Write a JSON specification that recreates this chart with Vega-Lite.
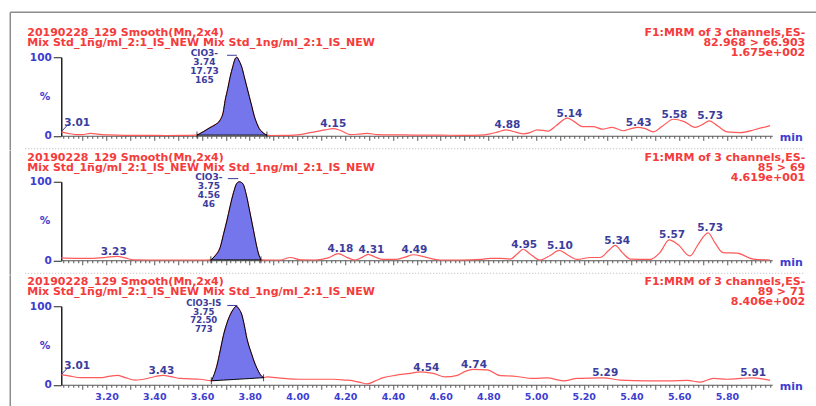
{
  "$schema": "https://vega.github.io/schema/vega-lite/v6.json",
  "background": "white",
  "padding": {"left": 9.25, "top": 11.25, "right": 0, "bottom": 0},
  "config": {"view": {"stroke": null}, "font": "DejaVu Sans", "axis": {"labelOverlap": false}},
  "spacing": 45.5,
  "bounds": "flush",
  "datasets": {
    "trace": [
      {"p":1,"t":3.010,"v":5},{"p":1,"t":3.039,"v":3},{"p":1,"t":3.069,"v":1.5},{"p":1,"t":3.098,"v":1.5},{"p":1,"t":3.132,"v":3},{"p":1,"t":3.165,"v":2},{"p":1,"t":3.207,"v":1},{"p":1,"t":3.278,"v":0.5},{"p":1,"t":3.362,"v":0.5},{"p":1,"t":3.446,"v":0.3},{"p":1,"t":3.530,"v":0.5},{"p":1,"t":3.579,"v":0.8},
      {"p":1,"t":3.605,"v":5},{"p":1,"t":3.634,"v":10.4},{"p":1,"t":3.655,"v":14},{"p":1,"t":3.676,"v":20},{"p":1,"t":3.689,"v":30},{"p":1,"t":3.697,"v":45},{"p":1,"t":3.708,"v":60},{"p":1,"t":3.718,"v":75},{"p":1,"t":3.729,"v":88},{"p":1,"t":3.739,"v":98},{"p":1,"t":3.746,"v":100},{"p":1,"t":3.756,"v":95},{"p":1,"t":3.767,"v":87},{"p":1,"t":3.777,"v":75},{"p":1,"t":3.788,"v":62},{"p":1,"t":3.798,"v":50},{"p":1,"t":3.809,"v":37},{"p":1,"t":3.819,"v":25},{"p":1,"t":3.830,"v":15.5},{"p":1,"t":3.840,"v":9},{"p":1,"t":3.851,"v":5},{"p":1,"t":3.872,"v":0.8},
      {"p":1,"t":3.886,"v":0.3},{"p":1,"t":3.949,"v":0.5},{"p":1,"t":4.012,"v":1.5},{"p":1,"t":4.054,"v":4},{"p":1,"t":4.083,"v":5.5},{"p":1,"t":4.116,"v":7.5},{"p":1,"t":4.150,"v":9},{"p":1,"t":4.179,"v":7},{"p":1,"t":4.221,"v":1.5},{"p":1,"t":4.255,"v":2},{"p":1,"t":4.292,"v":3},{"p":1,"t":4.334,"v":1.5},{"p":1,"t":4.389,"v":1},{"p":1,"t":4.452,"v":1},{"p":1,"t":4.515,"v":0.8},{"p":1,"t":4.598,"v":0.8},{"p":1,"t":4.682,"v":0.5},{"p":1,"t":4.766,"v":0.8},{"p":1,"t":4.808,"v":2.5},{"p":1,"t":4.842,"v":5},{"p":1,"t":4.875,"v":7.5},{"p":1,"t":4.904,"v":5.5},{"p":1,"t":4.946,"v":2.5},{"p":1,"t":4.975,"v":4},{"p":1,"t":5.005,"v":7.5},{"p":1,"t":5.051,"v":6},{"p":1,"t":5.085,"v":13},{"p":1,"t":5.131,"v":22.5},{"p":1,"t":5.160,"v":18},{"p":1,"t":5.194,"v":11.5},{"p":1,"t":5.240,"v":11.5},{"p":1,"t":5.277,"v":8.5},{"p":1,"t":5.319,"v":10.7},{"p":1,"t":5.365,"v":6.4},{"p":1,"t":5.399,"v":9},{"p":1,"t":5.424,"v":10.7},{"p":1,"t":5.458,"v":9},{"p":1,"t":5.491,"v":5},{"p":1,"t":5.529,"v":12},{"p":1,"t":5.575,"v":21},{"p":1,"t":5.621,"v":18},{"p":1,"t":5.667,"v":10.7},{"p":1,"t":5.696,"v":14},{"p":1,"t":5.726,"v":19},{"p":1,"t":5.763,"v":12},{"p":1,"t":5.801,"v":5},{"p":1,"t":5.856,"v":4},{"p":1,"t":5.919,"v":8},{"p":1,"t":5.981,"v":13},
      {"p":2,"t":3.010,"v":3},{"p":2,"t":3.069,"v":2.5},{"p":2,"t":3.132,"v":2.5},{"p":2,"t":3.194,"v":3.5},{"p":2,"t":3.245,"v":5},{"p":2,"t":3.278,"v":3},{"p":2,"t":3.312,"v":0.5},{"p":2,"t":3.383,"v":0.3},{"p":2,"t":3.509,"v":0.3},{"p":2,"t":3.614,"v":0.3},{"p":2,"t":3.637,"v":0.5},
      {"p":2,"t":3.655,"v":5.7},{"p":2,"t":3.676,"v":16.3},{"p":2,"t":3.690,"v":33},{"p":2,"t":3.704,"v":50},{"p":2,"t":3.718,"v":69},{"p":2,"t":3.732,"v":86},{"p":2,"t":3.746,"v":98},{"p":2,"t":3.757,"v":100},{"p":2,"t":3.772,"v":97},{"p":2,"t":3.785,"v":84},{"p":2,"t":3.802,"v":59},{"p":2,"t":3.816,"v":37.6},{"p":2,"t":3.827,"v":20.6},{"p":2,"t":3.837,"v":8},{"p":2,"t":3.847,"v":0.5},
      {"p":2,"t":3.886,"v":0.3},{"p":2,"t":3.928,"v":0.3},{"p":2,"t":3.970,"v":3.5},{"p":2,"t":4.012,"v":0.5},{"p":2,"t":4.075,"v":0.3},{"p":2,"t":4.129,"v":3},{"p":2,"t":4.171,"v":8.5},{"p":2,"t":4.205,"v":4},{"p":2,"t":4.242,"v":0.3},{"p":2,"t":4.272,"v":4},{"p":2,"t":4.297,"v":7.6},{"p":2,"t":4.326,"v":4},{"p":2,"t":4.360,"v":1},{"p":2,"t":4.410,"v":1},{"p":2,"t":4.452,"v":4},{"p":2,"t":4.485,"v":7},{"p":2,"t":4.536,"v":4},{"p":2,"t":4.598,"v":0.3},{"p":2,"t":4.682,"v":0.3},{"p":2,"t":4.766,"v":1},{"p":2,"t":4.808,"v":2.5},{"p":2,"t":4.850,"v":2.5},{"p":2,"t":4.892,"v":1.5},{"p":2,"t":4.921,"v":8},{"p":2,"t":4.946,"v":14},{"p":2,"t":4.975,"v":8},{"p":2,"t":5.017,"v":0.3},{"p":2,"t":5.059,"v":6},{"p":2,"t":5.097,"v":12.7},{"p":2,"t":5.131,"v":7},{"p":2,"t":5.173,"v":1},{"p":2,"t":5.227,"v":3.5},{"p":2,"t":5.269,"v":3.5},{"p":2,"t":5.303,"v":12},{"p":2,"t":5.332,"v":19},{"p":2,"t":5.361,"v":10},{"p":2,"t":5.395,"v":1.5},{"p":2,"t":5.478,"v":1},{"p":2,"t":5.520,"v":10},{"p":2,"t":5.558,"v":26},{"p":2,"t":5.595,"v":20},{"p":2,"t":5.645,"v":5.5},{"p":2,"t":5.679,"v":20},{"p":2,"t":5.721,"v":35},{"p":2,"t":5.750,"v":22},{"p":2,"t":5.784,"v":9.7},{"p":2,"t":5.843,"v":9},{"p":2,"t":5.910,"v":1.5},{"p":2,"t":5.981,"v":0.3},
      {"p":3,"t":3.010,"v":13},{"p":3,"t":3.048,"v":11},{"p":3,"t":3.090,"v":9},{"p":3,"t":3.173,"v":9},{"p":3,"t":3.215,"v":11},{"p":3,"t":3.245,"v":12},{"p":3,"t":3.278,"v":9},{"p":3,"t":3.320,"v":6},{"p":3,"t":3.370,"v":8},{"p":3,"t":3.404,"v":10.5},{"p":3,"t":3.437,"v":12},{"p":3,"t":3.475,"v":10},{"p":3,"t":3.509,"v":8},{"p":3,"t":3.593,"v":7},{"p":3,"t":3.639,"v":5},
      {"p":3,"t":3.663,"v":25},{"p":3,"t":3.676,"v":43},{"p":3,"t":3.690,"v":63},{"p":3,"t":3.704,"v":78},{"p":3,"t":3.718,"v":89},{"p":3,"t":3.731,"v":96},{"p":3,"t":3.743,"v":100},{"p":3,"t":3.756,"v":96},{"p":3,"t":3.767,"v":89},{"p":3,"t":3.777,"v":76},{"p":3,"t":3.788,"v":59},{"p":3,"t":3.798,"v":48},{"p":3,"t":3.809,"v":38},{"p":3,"t":3.819,"v":29},{"p":3,"t":3.830,"v":21},{"p":3,"t":3.844,"v":13},{"p":3,"t":3.858,"v":9},
      {"p":3,"t":3.873,"v":10},{"p":3,"t":3.928,"v":8.5},{"p":3,"t":4.012,"v":7},{"p":3,"t":4.095,"v":7},{"p":3,"t":4.150,"v":7},{"p":3,"t":4.200,"v":6},{"p":3,"t":4.234,"v":5},{"p":3,"t":4.263,"v":3},{"p":3,"t":4.292,"v":1},{"p":3,"t":4.326,"v":5},{"p":3,"t":4.360,"v":9},{"p":3,"t":4.410,"v":12},{"p":3,"t":4.473,"v":14.5},{"p":3,"t":4.515,"v":16.5},{"p":3,"t":4.569,"v":14.5},{"p":3,"t":4.619,"v":10},{"p":3,"t":4.670,"v":12},{"p":3,"t":4.703,"v":17},{"p":3,"t":4.737,"v":19.5},{"p":3,"t":4.795,"v":19},{"p":3,"t":4.850,"v":11.5},{"p":3,"t":4.904,"v":11},{"p":3,"t":4.988,"v":8},{"p":3,"t":5.047,"v":8.7},{"p":3,"t":5.114,"v":5},{"p":3,"t":5.173,"v":8},{"p":3,"t":5.227,"v":8.5},{"p":3,"t":5.282,"v":8.7},{"p":3,"t":5.353,"v":6},{"p":3,"t":5.466,"v":5},{"p":3,"t":5.562,"v":5},{"p":3,"t":5.634,"v":5.5},{"p":3,"t":5.688,"v":3.4},{"p":3,"t":5.743,"v":8},{"p":3,"t":5.801,"v":7},{"p":3,"t":5.856,"v":8},{"p":3,"t":5.906,"v":8.7},{"p":3,"t":5.948,"v":7.5},{"p":3,"t":5.981,"v":5.5}
    ],
    "peak": [
      {"p":1,"t":3.579,"v":0.8,"b":0.8},{"p":1,"t":3.605,"v":5,"b":0.8},{"p":1,"t":3.634,"v":10.4,"b":0.8},{"p":1,"t":3.655,"v":14,"b":0.8},{"p":1,"t":3.676,"v":20,"b":0.8},{"p":1,"t":3.689,"v":30,"b":0.8},{"p":1,"t":3.697,"v":45,"b":0.8},{"p":1,"t":3.708,"v":60,"b":0.8},{"p":1,"t":3.718,"v":75,"b":0.8},{"p":1,"t":3.729,"v":88,"b":0.8},{"p":1,"t":3.739,"v":98,"b":0.8},{"p":1,"t":3.746,"v":100,"b":0.8},{"p":1,"t":3.756,"v":95,"b":0.8},{"p":1,"t":3.767,"v":87,"b":0.8},{"p":1,"t":3.777,"v":75,"b":0.8},{"p":1,"t":3.788,"v":62,"b":0.8},{"p":1,"t":3.798,"v":50,"b":0.8},{"p":1,"t":3.809,"v":37,"b":0.8},{"p":1,"t":3.819,"v":25,"b":0.8},{"p":1,"t":3.830,"v":15.5,"b":0.8},{"p":1,"t":3.840,"v":9,"b":0.8},{"p":1,"t":3.851,"v":5,"b":0.8},{"p":1,"t":3.872,"v":0.8,"b":0.8},
      {"p":2,"t":3.637,"v":0.5,"b":0.5},{"p":2,"t":3.655,"v":5.7,"b":0.5},{"p":2,"t":3.676,"v":16.3,"b":0.5},{"p":2,"t":3.690,"v":33,"b":0.5},{"p":2,"t":3.704,"v":50,"b":0.5},{"p":2,"t":3.718,"v":69,"b":0.5},{"p":2,"t":3.732,"v":86,"b":0.5},{"p":2,"t":3.746,"v":98,"b":0.5},{"p":2,"t":3.757,"v":100,"b":0.5},{"p":2,"t":3.772,"v":97,"b":0.5},{"p":2,"t":3.785,"v":84,"b":0.5},{"p":2,"t":3.802,"v":59,"b":0.5},{"p":2,"t":3.816,"v":37.6,"b":0.5},{"p":2,"t":3.827,"v":20.6,"b":0.5},{"p":2,"t":3.837,"v":8,"b":0.5},{"p":2,"t":3.847,"v":0.5,"b":0.5},
      {"p":3,"t":3.639,"v":5,"b":5},{"p":3,"t":3.663,"v":25,"b":5.44},{"p":3,"t":3.676,"v":43,"b":5.68},{"p":3,"t":3.690,"v":63,"b":5.93},{"p":3,"t":3.704,"v":78,"b":6.19},{"p":3,"t":3.718,"v":89,"b":6.44},{"p":3,"t":3.731,"v":96,"b":6.68},{"p":3,"t":3.743,"v":100,"b":6.9},{"p":3,"t":3.756,"v":96,"b":7.14},{"p":3,"t":3.767,"v":89,"b":7.34},{"p":3,"t":3.777,"v":76,"b":7.52},{"p":3,"t":3.788,"v":59,"b":7.72},{"p":3,"t":3.798,"v":48,"b":7.9},{"p":3,"t":3.809,"v":38,"b":8.1},{"p":3,"t":3.819,"v":29,"b":8.29},{"p":3,"t":3.830,"v":21,"b":8.49},{"p":3,"t":3.844,"v":13,"b":8.74},{"p":3,"t":3.858,"v":9,"b":9}
    ],
    "lim": [
      {"p":1,"t":3.579,"b":0.8},{"p":1,"t":3.872,"b":0.8},
      {"p":2,"t":3.637,"b":0.5},{"p":2,"t":3.847,"b":0.5},
      {"p":3,"t":3.639,"b":5},{"p":3,"t":3.858,"b":9}
    ],
    "lead": [
      {"p":1,"t":3.010,"v":5,"t2":3.039,"v2":14.6},{"p":1,"t":3.705,"v":102.5,"t2":3.746,"v2":102.5},
      {"p":2,"t":3.708,"v":104,"t2":3.752,"v2":104},
      {"p":3,"t":3.010,"v":13,"t2":3.039,"v2":22.3},{"p":3,"t":3.706,"v":101,"t2":3.748,"v2":101}
    ],
    "lab": [
      {"p":1,"t":3.01,"v":5,"lbl":"3.01"},{"p":1,"t":4.15,"v":9,"lbl":"4.15"},{"p":1,"t":4.88,"v":7.5,"lbl":"4.88"},{"p":1,"t":5.14,"v":22.5,"lbl":"5.14"},{"p":1,"t":5.43,"v":10.7,"lbl":"5.43"},{"p":1,"t":5.58,"v":21,"lbl":"5.58"},{"p":1,"t":5.73,"v":19,"lbl":"5.73"},
      {"p":2,"t":3.23,"v":5,"lbl":"3.23"},{"p":2,"t":4.18,"v":8.5,"lbl":"4.18"},{"p":2,"t":4.31,"v":7.6,"lbl":"4.31"},{"p":2,"t":4.49,"v":7,"lbl":"4.49"},{"p":2,"t":4.95,"v":14,"lbl":"4.95"},{"p":2,"t":5.10,"v":12.7,"lbl":"5.10"},{"p":2,"t":5.34,"v":19,"lbl":"5.34"},{"p":2,"t":5.57,"v":26,"lbl":"5.57"},{"p":2,"t":5.73,"v":35,"lbl":"5.73"},
      {"p":3,"t":3.01,"v":13,"lbl":"3.01"},{"p":3,"t":3.43,"v":12,"lbl":"3.43"},{"p":3,"t":4.54,"v":15.5,"lbl":"4.54"},{"p":3,"t":4.74,"v":19.5,"lbl":"4.74"},{"p":3,"t":5.29,"v":8.7,"lbl":"5.29"},{"p":3,"t":5.91,"v":8.7,"lbl":"5.91"}
    ],
    "main": [
      {"p":1,"t":3.74,"v":100,"txt":"ClO3-\n3.74\n17.73\n165"},
      {"p":2,"t":3.75,"v":100,"txt":"ClO3-\n3.75\n4.56\n46"},
      {"p":3,"t":3.75,"v":100,"txt":"ClO3-IS\n3.75\n72.50\n773"}
    ],
    "head": [
      {"p":1,"left":"20190228_129 Smooth(Mn,2x4)\nMix Std_1ng/ml_2:1_IS_NEW Mix Std_1ng/ml_2:1_IS_NEW","right":"F1:MRM of 3 channels,ES-\n82.968 > 66.903\n1.675e+002"},
      {"p":2,"left":"20190228_129 Smooth(Mn,2x4)\nMix Std_1ng/ml_2:1_IS_NEW Mix Std_1ng/ml_2:1_IS_NEW","right":"F1:MRM of 3 channels,ES-\n85 > 69\n4.619e+001"},
      {"p":3,"left":"20190228_129 Smooth(Mn,2x4)\nMix Std_1ng/ml_2:1_IS_NEW Mix Std_1ng/ml_2:1_IS_NEW","right":"F1:MRM of 3 channels,ES-\n89 > 71\n8.406e+002"}
    ]
  },
  "vconcat": [
    {
      "width": 711, "height": 78.5,
      "layer": [
        {"data": {"name": "trace"}, "transform": [{"filter": "datum.p == 1"}],
         "mark": {"type": "line", "color": "#ff5a5a", "strokeWidth": 1.2, "interpolate": "monotone"},
         "encoding": {
           "x": {"field": "t", "type": "quantitative", "scale": {"domain": [3.01, 5.99], "nice": false, "zero": false},
                 "axis": {"tickCount": 150, "labels": false, "grid": false, "domainColor": "#555", "tickColor": "#555", "tickWidth": 1, "tickSize": {"condition": {"test": "abs(datum.value*10 - round(datum.value*10)) < 0.000001", "value": 4.5}, "value": 2.5}, "title": "min", "titleX": 718, "titleY": 2, "titleAlign": "left", "titleBaseline": "middle", "titleColor": "#3d3dd0", "titleFont": "DejaVu Sans", "titleFontWeight": "bold", "titleFontSize": 11, "labelOverlap": false}},
           "y": {"field": "v", "type": "quantitative", "scale": {"domain": [0, 100], "nice": false, "zero": false},
                 "axis": {"values": [0,5,10,15,20,25,30,35,40,45,50,55,60,65,70,75,80,85,90,95,100], "labelExpr": "datum.value == 100 ? '100' : datum.value == 0 ? '0' : ''", "labelFontSize": {"condition": {"test": "datum.value % 50 == 0", "value": 10.5}, "value": 1}, "tickSize": {"condition": {"test": "datum.value % 50 == 0", "value": 8}, "value": 3}, "domainColor": "#222", "domainWidth": 1.5, "tickColor": "#222", "labelColor": "#3d3dd0", "labelFont": "DejaVu Sans", "labelFontWeight": "bold", "labelPadding": 2, "title": null, "grid": false, "labelOverlap": false, "labelFlush": false}}
         }},
        {"data": {"values": [{"s": "%"}]}, "mark": {"type": "text", "align": "right", "baseline": "middle", "dx": -11, "font": "DejaVu Sans", "fontWeight": "bold", "fontSize": 10.5, "color": "#3d3dd0"},
         "encoding": {"x": {"datum": 3.01, "type": "quantitative"}, "y": {"datum": 50, "type": "quantitative"}, "text": {"field": "s"}}},
        {"data": {"values": [{}]}, "mark": {"type": "rule", "color": "#8c8c8c", "strokeWidth": 1.5},
         "encoding": {"x": {"datum": 2.7963, "type": "quantitative"}, "x2": {"datum": 6.1743}, "y": {"datum": 157.3, "type": "quantitative"}}},
        {"data": {"values": [{}]}, "mark": {"type": "rule", "color": "#8c8c8c", "strokeWidth": 1.5},
         "encoding": {"x": {"datum": 2.7963, "type": "quantitative"}, "y": {"datum": 157.3, "type": "quantitative"}, "y2": {"datum": -18.5}}},
        {"data": {"name": "peak"}, "transform": [{"filter": "datum.p == 1"}],
         "mark": {"type": "area", "fill": "#7676ec", "stroke": "#000", "strokeWidth": 1, "interpolate": "monotone"},
         "encoding": {"x": {"field": "t", "type": "quantitative"}, "y": {"field": "v", "type": "quantitative"}, "y2": {"field": "b"}}},
        {"data": {"name": "lim"}, "transform": [{"filter": "datum.p == 1"}],
         "mark": {"type": "tick", "orient": "vertical", "size": 7, "thickness": 1, "color": "#000"},
         "encoding": {"x": {"field": "t", "type": "quantitative"}, "y": {"field": "b", "type": "quantitative"}}},
        {"data": {"name": "lead"}, "transform": [{"filter": "datum.p == 1"}],
         "mark": {"type": "rule", "color": "#3c3c9c", "strokeWidth": 1},
         "encoding": {"x": {"field": "t", "type": "quantitative"}, "y": {"field": "v", "type": "quantitative"}, "x2": {"field": "t2"}, "y2": {"field": "v2"}}},
        {"data": {"name": "lab"}, "transform": [{"filter": "datum.p == 1 && datum.t > 3.02"}],
         "mark": {"type": "text", "align": "center", "baseline": "alphabetic", "dy": -1.5, "font": "DejaVu Sans", "fontWeight": "bold", "fontSize": 10.5, "color": "#3c3c9c"},
         "encoding": {"x": {"field": "t", "type": "quantitative"}, "y": {"field": "v", "type": "quantitative"}, "text": {"field": "lbl"}}},
        {"data": {"name": "lab"}, "transform": [{"filter": "datum.p == 1 && datum.t <= 3.02"}],
         "mark": {"type": "text", "align": "left", "baseline": "alphabetic", "dx": 3, "dy": -6, "font": "DejaVu Sans", "fontWeight": "bold", "fontSize": 10.5, "color": "#3c3c9c"},
         "encoding": {"x": {"field": "t", "type": "quantitative"}, "y": {"field": "v", "type": "quantitative"}, "text": {"field": "lbl"}}},
        {"data": {"name": "main"}, "transform": [{"filter": "datum.p == 1"}],
         "mark": {"type": "text", "align": "center", "baseline": "alphabetic", "dx": -31, "dy": -1.5, "lineBreak": "\n", "lineHeight": 9, "font": "DejaVu Sans", "fontWeight": "bold", "fontSize": 9, "color": "#3c3c9c"},
         "encoding": {"x": {"field": "t", "type": "quantitative"}, "y": {"field": "v", "type": "quantitative"}, "text": {"field": "txt"}}},
        {"data": {"name": "head"}, "transform": [{"filter": "datum.p == 1"}],
         "mark": {"type": "text", "align": "left", "baseline": "alphabetic", "lineBreak": "\n", "lineHeight": 10, "font": "DejaVu Sans", "fontWeight": "bold", "fontSize": 11, "color": "#f53b3b"},
         "encoding": {"x": {"datum": 2.8675, "type": "quantitative"}, "y": {"datum": 126.5, "type": "quantitative"}, "text": {"field": "left"}}},
        {"data": {"name": "head"}, "transform": [{"filter": "datum.p == 1"}],
         "mark": {"type": "text", "align": "right", "baseline": "alphabetic", "lineBreak": "\n", "lineHeight": 9.8, "font": "DejaVu Sans", "fontWeight": "bold", "fontSize": 11, "color": "#f53b3b"},
         "encoding": {"x": {"datum": 6.1282, "type": "quantitative"}, "y": {"datum": 126.5, "type": "quantitative"}, "text": {"field": "right"}}}
      ]
    },
    {
      "width": 711, "height": 78.5,
      "layer": [
        {"data": {"name": "trace"}, "transform": [{"filter": "datum.p == 2"}],
         "mark": {"type": "line", "color": "#ff5a5a", "strokeWidth": 1.2, "interpolate": "monotone"},
         "encoding": {
           "x": {"field": "t", "type": "quantitative", "scale": {"domain": [3.01, 5.99], "nice": false, "zero": false},
                 "axis": {"tickCount": 150, "labels": false, "grid": false, "domainColor": "#555", "tickColor": "#555", "tickWidth": 1, "tickSize": {"condition": {"test": "abs(datum.value*10 - round(datum.value*10)) < 0.000001", "value": 4.5}, "value": 2.5}, "title": "min", "titleX": 718, "titleY": 2, "titleAlign": "left", "titleBaseline": "middle", "titleColor": "#3d3dd0", "titleFont": "DejaVu Sans", "titleFontWeight": "bold", "titleFontSize": 11, "labelOverlap": false}},
           "y": {"field": "v", "type": "quantitative", "scale": {"domain": [0, 100], "nice": false, "zero": false},
                 "axis": {"values": [0,5,10,15,20,25,30,35,40,45,50,55,60,65,70,75,80,85,90,95,100], "labelExpr": "datum.value == 100 ? '100' : datum.value == 0 ? '0' : ''", "labelFontSize": {"condition": {"test": "datum.value % 50 == 0", "value": 10.5}, "value": 1}, "tickSize": {"condition": {"test": "datum.value % 50 == 0", "value": 8}, "value": 3}, "domainColor": "#222", "domainWidth": 1.5, "tickColor": "#222", "labelColor": "#3d3dd0", "labelFont": "DejaVu Sans", "labelFontWeight": "bold", "labelPadding": 2, "title": null, "grid": false, "labelOverlap": false, "labelFlush": false}}
         }},
        {"data": {"values": [{"s": "%"}]}, "mark": {"type": "text", "align": "right", "baseline": "middle", "dx": -11, "font": "DejaVu Sans", "fontWeight": "bold", "fontSize": 10.5, "color": "#3d3dd0"},
         "encoding": {"x": {"datum": 3.01, "type": "quantitative"}, "y": {"datum": 50, "type": "quantitative"}, "text": {"field": "s"}}},
        {"data": {"values": [{}]}, "mark": {"type": "rule", "color": "#b4b4b4", "strokeWidth": 1, "strokeDash": [1, 2]},
         "encoding": {"x": {"datum": 2.859, "type": "quantitative"}, "x2": {"datum": 6.1282}, "y": {"datum": 142, "type": "quantitative"}}},
        {"data": {"values": [{}]}, "mark": {"type": "rule", "color": "#8c8c8c", "strokeWidth": 1.5},
         "encoding": {"x": {"datum": 2.7963, "type": "quantitative"}, "y": {"datum": 139.5, "type": "quantitative"}, "y2": {"datum": -18.5}}},
        {"data": {"name": "peak"}, "transform": [{"filter": "datum.p == 2"}],
         "mark": {"type": "area", "fill": "#7676ec", "stroke": "#000", "strokeWidth": 1, "interpolate": "monotone"},
         "encoding": {"x": {"field": "t", "type": "quantitative"}, "y": {"field": "v", "type": "quantitative"}, "y2": {"field": "b"}}},
        {"data": {"name": "lim"}, "transform": [{"filter": "datum.p == 2"}],
         "mark": {"type": "tick", "orient": "vertical", "size": 7, "thickness": 1, "color": "#000"},
         "encoding": {"x": {"field": "t", "type": "quantitative"}, "y": {"field": "b", "type": "quantitative"}}},
        {"data": {"name": "lead"}, "transform": [{"filter": "datum.p == 2"}],
         "mark": {"type": "rule", "color": "#3c3c9c", "strokeWidth": 1},
         "encoding": {"x": {"field": "t", "type": "quantitative"}, "y": {"field": "v", "type": "quantitative"}, "x2": {"field": "t2"}, "y2": {"field": "v2"}}},
        {"data": {"name": "lab"}, "transform": [{"filter": "datum.p == 2 && datum.t > 3.02"}],
         "mark": {"type": "text", "align": "center", "baseline": "alphabetic", "dy": -1.5, "font": "DejaVu Sans", "fontWeight": "bold", "fontSize": 10.5, "color": "#3c3c9c"},
         "encoding": {"x": {"field": "t", "type": "quantitative"}, "y": {"field": "v", "type": "quantitative"}, "text": {"field": "lbl"}}},
        {"data": {"name": "main"}, "transform": [{"filter": "datum.p == 2"}],
         "mark": {"type": "text", "align": "center", "baseline": "alphabetic", "dx": -29, "dy": -1.5, "lineBreak": "\n", "lineHeight": 9, "font": "DejaVu Sans", "fontWeight": "bold", "fontSize": 9, "color": "#3c3c9c"},
         "encoding": {"x": {"field": "t", "type": "quantitative"}, "y": {"field": "v", "type": "quantitative"}, "text": {"field": "txt"}}},
        {"data": {"name": "head"}, "transform": [{"filter": "datum.p == 2"}],
         "mark": {"type": "text", "align": "left", "baseline": "alphabetic", "lineBreak": "\n", "lineHeight": 10, "font": "DejaVu Sans", "fontWeight": "bold", "fontSize": 11, "color": "#f53b3b"},
         "encoding": {"x": {"datum": 2.8675, "type": "quantitative"}, "y": {"datum": 126.5, "type": "quantitative"}, "text": {"field": "left"}}},
        {"data": {"name": "head"}, "transform": [{"filter": "datum.p == 2"}],
         "mark": {"type": "text", "align": "right", "baseline": "alphabetic", "lineBreak": "\n", "lineHeight": 9.8, "font": "DejaVu Sans", "fontWeight": "bold", "fontSize": 11, "color": "#f53b3b"},
         "encoding": {"x": {"datum": 6.1282, "type": "quantitative"}, "y": {"datum": 126.5, "type": "quantitative"}, "text": {"field": "right"}}}
      ]
    },
    {
      "width": 711, "height": 78.5,
      "layer": [
        {"data": {"name": "trace"}, "transform": [{"filter": "datum.p == 3"}],
         "mark": {"type": "line", "color": "#ff5a5a", "strokeWidth": 1.2, "interpolate": "monotone"},
         "encoding": {
           "x": {"field": "t", "type": "quantitative", "scale": {"domain": [3.01, 5.99], "nice": false, "zero": false},
                 "axis": {"tickCount": 150, "labels": true, "labelExpr": "abs(datum.value*5 - round(datum.value*5)) < 0.000001 ? format(datum.value, '.2f') : ''", "labelFont": "DejaVu Sans", "labelFontWeight": "bold", "labelFontSize": 9.5, "labelColor": "#3d3dd0", "labelPadding": 2, "labelFlush": false, "labelOverlap": false, "grid": false, "domainColor": "#555", "tickColor": "#555", "tickWidth": 1, "tickSize": {"condition": {"test": "abs(datum.value*10 - round(datum.value*10)) < 0.000001", "value": 4.5}, "value": 2.5}, "title": "min", "titleX": 718, "titleY": 2, "titleAlign": "left", "titleBaseline": "middle", "titleColor": "#3d3dd0", "titleFont": "DejaVu Sans", "titleFontWeight": "bold", "titleFontSize": 11}},
           "y": {"field": "v", "type": "quantitative", "scale": {"domain": [0, 100], "nice": false, "zero": false},
                 "axis": {"values": [0,5,10,15,20,25,30,35,40,45,50,55,60,65,70,75,80,85,90,95,100], "labelExpr": "datum.value == 100 ? '100' : datum.value == 0 ? '0' : ''", "labelFontSize": {"condition": {"test": "datum.value % 50 == 0", "value": 10.5}, "value": 1}, "tickSize": {"condition": {"test": "datum.value % 50 == 0", "value": 8}, "value": 3}, "domainColor": "#222", "domainWidth": 1.5, "tickColor": "#222", "labelColor": "#3d3dd0", "labelFont": "DejaVu Sans", "labelFontWeight": "bold", "labelPadding": 2, "title": null, "grid": false, "labelOverlap": false, "labelFlush": false}}
         }},
        {"data": {"values": [{"s": "%"}]}, "mark": {"type": "text", "align": "right", "baseline": "middle", "dx": -11, "font": "DejaVu Sans", "fontWeight": "bold", "fontSize": 10.5, "color": "#3d3dd0"},
         "encoding": {"x": {"datum": 3.01, "type": "quantitative"}, "y": {"datum": 50, "type": "quantitative"}, "text": {"field": "s"}}},
        {"data": {"values": [{}]}, "mark": {"type": "rule", "color": "#b4b4b4", "strokeWidth": 1, "strokeDash": [1, 2]},
         "encoding": {"x": {"datum": 2.859, "type": "quantitative"}, "x2": {"datum": 6.1282}, "y": {"datum": 142, "type": "quantitative"}}},
        {"data": {"values": [{}]}, "mark": {"type": "rule", "color": "#8c8c8c", "strokeWidth": 1.5},
         "encoding": {"x": {"datum": 2.7963, "type": "quantitative"}, "y": {"datum": 139.5, "type": "quantitative"}, "y2": {"datum": -30}}},
        {"data": {"name": "peak"}, "transform": [{"filter": "datum.p == 3"}],
         "mark": {"type": "area", "fill": "#7676ec", "stroke": "#000", "strokeWidth": 1, "interpolate": "monotone"},
         "encoding": {"x": {"field": "t", "type": "quantitative"}, "y": {"field": "v", "type": "quantitative"}, "y2": {"field": "b"}}},
        {"data": {"name": "lim"}, "transform": [{"filter": "datum.p == 3"}],
         "mark": {"type": "tick", "orient": "vertical", "size": 7, "thickness": 1, "color": "#000"},
         "encoding": {"x": {"field": "t", "type": "quantitative"}, "y": {"field": "b", "type": "quantitative"}}},
        {"data": {"name": "lead"}, "transform": [{"filter": "datum.p == 3"}],
         "mark": {"type": "rule", "color": "#3c3c9c", "strokeWidth": 1},
         "encoding": {"x": {"field": "t", "type": "quantitative"}, "y": {"field": "v", "type": "quantitative"}, "x2": {"field": "t2"}, "y2": {"field": "v2"}}},
        {"data": {"name": "lab"}, "transform": [{"filter": "datum.p == 3 && datum.t > 3.02"}],
         "mark": {"type": "text", "align": "center", "baseline": "alphabetic", "dy": -1.5, "font": "DejaVu Sans", "fontWeight": "bold", "fontSize": 10.5, "color": "#3c3c9c"},
         "encoding": {"x": {"field": "t", "type": "quantitative"}, "y": {"field": "v", "type": "quantitative"}, "text": {"field": "lbl"}}},
        {"data": {"name": "lab"}, "transform": [{"filter": "datum.p == 3 && datum.t <= 3.02"}],
         "mark": {"type": "text", "align": "left", "baseline": "alphabetic", "dx": 3, "dy": -6, "font": "DejaVu Sans", "fontWeight": "bold", "fontSize": 10.5, "color": "#3c3c9c"},
         "encoding": {"x": {"field": "t", "type": "quantitative"}, "y": {"field": "v", "type": "quantitative"}, "text": {"field": "lbl"}}},
        {"data": {"name": "main"}, "transform": [{"filter": "datum.p == 3"}],
         "mark": {"type": "text", "align": "center", "baseline": "alphabetic", "dx": -34, "dy": 0, "lineBreak": "\n", "lineHeight": 8.6, "font": "DejaVu Sans", "fontWeight": "bold", "fontSize": 8.5, "color": "#3c3c9c"},
         "encoding": {"x": {"field": "t", "type": "quantitative"}, "y": {"field": "v", "type": "quantitative"}, "text": {"field": "txt"}}},
        {"data": {"name": "head"}, "transform": [{"filter": "datum.p == 3"}],
         "mark": {"type": "text", "align": "left", "baseline": "alphabetic", "lineBreak": "\n", "lineHeight": 10, "font": "DejaVu Sans", "fontWeight": "bold", "fontSize": 11, "color": "#f53b3b"},
         "encoding": {"x": {"datum": 2.8675, "type": "quantitative"}, "y": {"datum": 126.5, "type": "quantitative"}, "text": {"field": "left"}}},
        {"data": {"name": "head"}, "transform": [{"filter": "datum.p == 3"}],
         "mark": {"type": "text", "align": "right", "baseline": "alphabetic", "lineBreak": "\n", "lineHeight": 9.8, "font": "DejaVu Sans", "fontWeight": "bold", "fontSize": 11, "color": "#f53b3b"},
         "encoding": {"x": {"datum": 6.1282, "type": "quantitative"}, "y": {"datum": 126.5, "type": "quantitative"}, "text": {"field": "right"}}}
      ]
    }
  ]
}
